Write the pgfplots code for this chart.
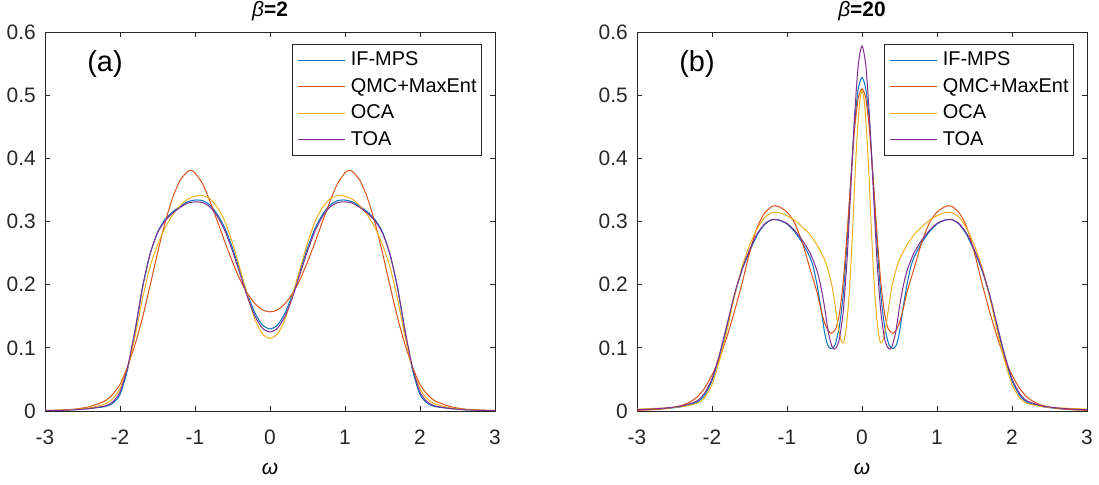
\documentclass[border=0pt]{standalone}
\usepackage{pgfplots}
\pgfplotsset{compat=1.18}
\usepackage{fontspec}
\setmainfont{Liberation Sans}
\definecolor{cB}{rgb}{0,0.447,0.741}
\definecolor{cO}{rgb}{0.850,0.325,0.098}
\definecolor{cY}{rgb}{0.929,0.694,0.125}
\definecolor{cP}{rgb}{0.494,0.184,0.556}
\definecolor{axc}{rgb}{0.15,0.15,0.15}
\pgfplotsset{myax/.style={
 scale only axis, width=450bp, height=379bp,
 xmin=-3,xmax=3,ymin=0,ymax=0.6,
 xtick={-3,-2,-1,0,1,2,3}, xticklabels={-3,-2,-1,0,1,2,3},
 ytick={0,0.1,0.2,0.3,0.4,0.5,0.6}, yticklabels={0,0.1,0.2,0.3,0.4,0.5,0.6},
 tick align=inside, major tick length=5bp,
 axis line style={axc, line width=0.8bp},
 tick style={axc, line width=0.8bp},
 ticklabel style={font=\fontsize{21}{21}\selectfont, text=axc},
 xticklabel style={anchor=north, inner sep=0pt, yshift=-19bp},
 yticklabel style={anchor=east, inner sep=0pt, xshift=-9bp},
 title style={at={(0.5,1)}, anchor=base, yshift=9.3bp, inner sep=0pt, font=\fontsize{21}{21}\selectfont},
 xlabel style={at={(0.5,0)}, anchor=base, yshift=-63bp, inner sep=0pt, font=\fontsize{21}{21}\selectfont},
 legend cell align=left,
 legend style={at={(0.971,0.968)}, anchor=north east, draw=axc, line width=0.8bp, inner xsep=5bp, inner ysep=6bp, font=\fontsize{20}{20}\selectfont, nodes={inner sep=0pt, text height=15bp, text depth=4bp}, row sep=7.5bp, column sep=5bp},
 legend image code/.code={\draw[#1, line width=1bp] (0bp,0bp) -- (47bp,0bp);},
 every axis plot/.append style={line width=1bp, smooth, tension=0.4},
}}
\begin{document}
\begin{tikzpicture}
\useasboundingbox (0,0) rectangle (1099bp,485bp);
\begin{axis}[myax, at={(45bp,74bp)}, anchor=south west, title={\textit{β}\textbf{=2}}, xlabel={\textit{ω}}]
\addplot[cB] coordinates {(-3,0.0005)(-2.8,0.001)(-2.6,0.002)(-2.4,0.004)(-2.2,0.007)(-2.1,0.012)(-2,0.026)(-1.9,0.065)(-1.8,0.125)(-1.7,0.195)(-1.6,0.248)(-1.5,0.283)(-1.4,0.303)(-1.3,0.315)(-1.2,0.324)(-1.1,0.331)(-1,0.334)(-0.9,0.333)(-0.8,0.326)(-0.7,0.311)(-0.6,0.289)(-0.5,0.258)(-0.4,0.222)(-0.3,0.185)(-0.2,0.155)(-0.1,0.136)(0,0.130)(0.1,0.136)(0.2,0.155)(0.3,0.185)(0.4,0.222)(0.5,0.258)(0.6,0.289)(0.7,0.311)(0.8,0.326)(0.9,0.333)(1,0.334)(1.1,0.331)(1.2,0.324)(1.3,0.315)(1.4,0.303)(1.5,0.283)(1.6,0.248)(1.7,0.195)(1.8,0.125)(1.9,0.065)(2,0.026)(2.1,0.012)(2.2,0.007)(2.4,0.004)(2.6,0.002)(2.8,0.001)(3,0.0005)};
\addlegendentry{IF-MPS}
\addplot[cO] coordinates {(-3,0.0008)(-2.8,0.0015)(-2.6,0.003)(-2.4,0.007)(-2.2,0.016)(-2.1,0.026)(-2,0.042)(-1.9,0.070)(-1.8,0.105)(-1.7,0.148)(-1.6,0.198)(-1.5,0.250)(-1.4,0.298)(-1.3,0.337)(-1.2,0.365)(-1.1,0.379)(-1.05,0.381)(-1,0.377)(-0.9,0.360)(-0.8,0.332)(-0.7,0.300)(-0.6,0.267)(-0.5,0.236)(-0.4,0.208)(-0.3,0.186)(-0.2,0.170)(-0.1,0.160)(0,0.157)(0.1,0.160)(0.2,0.170)(0.3,0.186)(0.4,0.208)(0.5,0.236)(0.6,0.267)(0.7,0.300)(0.8,0.332)(0.9,0.360)(1,0.377)(1.05,0.381)(1.1,0.379)(1.2,0.365)(1.3,0.337)(1.4,0.298)(1.5,0.250)(1.6,0.198)(1.7,0.148)(1.8,0.105)(1.9,0.070)(2,0.042)(2.1,0.026)(2.2,0.016)(2.4,0.007)(2.6,0.003)(2.8,0.0015)(3,0.0008)};
\addlegendentry{QMC+MaxEnt}
\addplot[cY] coordinates {(-3,0.0006)(-2.8,0.0012)(-2.6,0.0025)(-2.4,0.005)(-2.2,0.011)(-2.1,0.019)(-2,0.035)(-1.9,0.068)(-1.8,0.118)(-1.7,0.178)(-1.6,0.228)(-1.5,0.263)(-1.4,0.290)(-1.3,0.310)(-1.2,0.325)(-1.1,0.335)(-1,0.340)(-0.9,0.341)(-0.8,0.336)(-0.7,0.322)(-0.6,0.300)(-0.5,0.266)(-0.4,0.225)(-0.3,0.183)(-0.2,0.145)(-0.1,0.122)(0,0.115)(0.1,0.122)(0.2,0.145)(0.3,0.183)(0.4,0.225)(0.5,0.266)(0.6,0.300)(0.7,0.322)(0.8,0.336)(0.9,0.341)(1,0.340)(1.1,0.335)(1.2,0.325)(1.3,0.310)(1.4,0.290)(1.5,0.263)(1.6,0.228)(1.7,0.178)(1.8,0.118)(1.9,0.068)(2,0.035)(2.1,0.019)(2.2,0.011)(2.4,0.005)(2.6,0.0025)(2.8,0.0012)(3,0.0006)};
\addlegendentry{OCA}
\addplot[cP] coordinates {(-3,0.0005)(-2.8,0.001)(-2.6,0.002)(-2.4,0.004)(-2.2,0.008)(-2.1,0.014)(-2,0.030)(-1.9,0.069)(-1.8,0.128)(-1.7,0.196)(-1.6,0.248)(-1.5,0.282)(-1.4,0.301)(-1.3,0.313)(-1.2,0.322)(-1.1,0.329)(-1,0.331)(-0.9,0.330)(-0.8,0.323)(-0.7,0.308)(-0.6,0.285)(-0.5,0.253)(-0.4,0.217)(-0.3,0.180)(-0.2,0.150)(-0.1,0.131)(0,0.125)(0.1,0.131)(0.2,0.150)(0.3,0.180)(0.4,0.217)(0.5,0.253)(0.6,0.285)(0.7,0.308)(0.8,0.323)(0.9,0.330)(1,0.331)(1.1,0.329)(1.2,0.322)(1.3,0.313)(1.4,0.301)(1.5,0.282)(1.6,0.248)(1.7,0.196)(1.8,0.128)(1.9,0.069)(2,0.030)(2.1,0.014)(2.2,0.008)(2.4,0.004)(2.6,0.002)(2.8,0.001)(3,0.0005)};
\addlegendentry{TOA}
\node[font=\fontsize{29}{29}\selectfont, text=black] at (axis cs:-2.2,0.55) {(a)};
\end{axis}
\begin{axis}[myax, at={(637bp,74bp)}, anchor=south west, title={\textit{β}\textbf{=20}}, xlabel={\textit{ω}}]
\addplot[cB] coordinates {(-3,0.0015)(-2.8,0.0025)(-2.6,0.004)(-2.4,0.007)(-2.2,0.014)(-2.1,0.025)(-2,0.048)(-1.9,0.087)(-1.8,0.133)(-1.7,0.183)(-1.6,0.223)(-1.5,0.252)(-1.4,0.278)(-1.3,0.295)(-1.2,0.303)(-1.1,0.302)(-1,0.296)(-0.9,0.284)(-0.8,0.267)(-0.7,0.245)(-0.65,0.228)(-0.6,0.200)(-0.55,0.165)(-0.5,0.125)(-0.46,0.105)(-0.42,0.099)(-0.38,0.101)(-0.35,0.108)(-0.3,0.135)(-0.25,0.185)(-0.2,0.265)(-0.15,0.365)(-0.1,0.455)(-0.05,0.510)(0,0.528)(0.05,0.510)(0.1,0.455)(0.15,0.365)(0.2,0.265)(0.25,0.185)(0.3,0.135)(0.35,0.108)(0.38,0.101)(0.42,0.099)(0.46,0.105)(0.5,0.125)(0.55,0.165)(0.6,0.200)(0.65,0.228)(0.7,0.245)(0.8,0.267)(0.9,0.284)(1,0.296)(1.1,0.302)(1.2,0.303)(1.3,0.295)(1.4,0.278)(1.5,0.252)(1.6,0.223)(1.7,0.183)(1.8,0.133)(1.9,0.087)(2,0.048)(2.1,0.025)(2.2,0.014)(2.4,0.007)(2.6,0.004)(2.8,0.0025)(3,0.0015)};
\addlegendentry{IF-MPS}
\addplot[cO] coordinates {(-3,0.001)(-2.8,0.002)(-2.6,0.004)(-2.4,0.009)(-2.3,0.014)(-2.2,0.022)(-2.1,0.036)(-2,0.057)(-1.9,0.083)(-1.8,0.118)(-1.7,0.158)(-1.6,0.202)(-1.5,0.250)(-1.4,0.290)(-1.3,0.313)(-1.2,0.324)(-1.16,0.325)(-1.1,0.323)(-1,0.315)(-0.9,0.298)(-0.8,0.268)(-0.7,0.228)(-0.6,0.188)(-0.55,0.162)(-0.5,0.140)(-0.45,0.127)(-0.41,0.123)(-0.35,0.130)(-0.3,0.155)(-0.25,0.205)(-0.2,0.280)(-0.15,0.365)(-0.1,0.445)(-0.05,0.495)(0,0.510)(0.05,0.495)(0.1,0.445)(0.15,0.365)(0.2,0.280)(0.25,0.205)(0.3,0.155)(0.35,0.130)(0.41,0.123)(0.45,0.127)(0.5,0.140)(0.55,0.162)(0.6,0.188)(0.7,0.228)(0.8,0.268)(0.9,0.298)(1,0.315)(1.1,0.323)(1.16,0.325)(1.2,0.324)(1.3,0.313)(1.4,0.290)(1.5,0.250)(1.6,0.202)(1.7,0.158)(1.8,0.118)(1.9,0.083)(2,0.057)(2.1,0.036)(2.2,0.022)(2.3,0.014)(2.4,0.009)(2.6,0.004)(2.8,0.002)(3,0.001)};
\addlegendentry{QMC+MaxEnt}
\addplot[cY] coordinates {(-3,0.003)(-2.8,0.004)(-2.6,0.005)(-2.4,0.007)(-2.2,0.012)(-2.1,0.021)(-2,0.042)(-1.9,0.080)(-1.8,0.128)(-1.7,0.182)(-1.6,0.228)(-1.5,0.262)(-1.4,0.288)(-1.3,0.306)(-1.2,0.314)(-1.1,0.314)(-1,0.309)(-0.9,0.302)(-0.8,0.292)(-0.7,0.280)(-0.6,0.263)(-0.5,0.240)(-0.45,0.222)(-0.4,0.198)(-0.36,0.168)(-0.32,0.135)(-0.28,0.112)(-0.245,0.108)(-0.21,0.132)(-0.18,0.170)(-0.15,0.228)(-0.12,0.300)(-0.09,0.380)(-0.06,0.445)(-0.03,0.490)(0,0.507)(0.03,0.490)(0.06,0.445)(0.09,0.380)(0.12,0.300)(0.15,0.228)(0.18,0.170)(0.21,0.132)(0.245,0.108)(0.28,0.112)(0.32,0.135)(0.36,0.168)(0.4,0.198)(0.45,0.222)(0.5,0.240)(0.6,0.263)(0.7,0.280)(0.8,0.292)(0.9,0.302)(1,0.309)(1.1,0.314)(1.2,0.314)(1.3,0.306)(1.4,0.288)(1.5,0.262)(1.6,0.228)(1.7,0.182)(1.8,0.128)(1.9,0.080)(2,0.042)(2.1,0.021)(2.2,0.012)(2.4,0.007)(2.6,0.005)(2.8,0.004)(3,0.003)};
\addlegendentry{OCA}
\addplot[cP] coordinates {(-3,0.002)(-2.8,0.003)(-2.6,0.005)(-2.4,0.008)(-2.2,0.016)(-2.1,0.028)(-2,0.051)(-1.9,0.090)(-1.8,0.137)(-1.7,0.185)(-1.6,0.224)(-1.5,0.255)(-1.4,0.280)(-1.3,0.296)(-1.2,0.303)(-1.1,0.302)(-1,0.297)(-0.9,0.286)(-0.8,0.271)(-0.7,0.252)(-0.65,0.238)(-0.6,0.222)(-0.55,0.198)(-0.5,0.165)(-0.45,0.125)(-0.4,0.102)(-0.37,0.098)(-0.34,0.101)(-0.3,0.115)(-0.25,0.158)(-0.2,0.238)(-0.15,0.350)(-0.1,0.465)(-0.05,0.548)(0,0.578)(0.05,0.548)(0.1,0.465)(0.15,0.350)(0.2,0.238)(0.25,0.158)(0.3,0.115)(0.34,0.101)(0.37,0.098)(0.4,0.102)(0.45,0.125)(0.5,0.165)(0.55,0.198)(0.6,0.222)(0.65,0.238)(0.7,0.252)(0.8,0.271)(0.9,0.286)(1,0.297)(1.1,0.302)(1.2,0.303)(1.3,0.296)(1.4,0.280)(1.5,0.255)(1.6,0.224)(1.7,0.185)(1.8,0.137)(1.9,0.090)(2,0.051)(2.1,0.028)(2.2,0.016)(2.4,0.008)(2.6,0.005)(2.8,0.003)(3,0.002)};
\addlegendentry{TOA}
\node[font=\fontsize{29}{29}\selectfont, text=black] at (axis cs:-2.2,0.55) {(b)};
\end{axis}
\end{tikzpicture}
\end{document}
